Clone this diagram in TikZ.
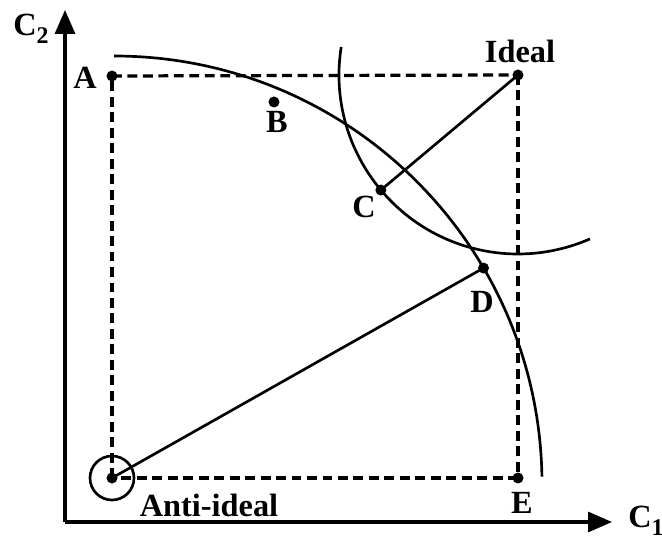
\documentclass[tikz,border=0pt]{standalone}
\usepackage{fontspec}
\setmainfont{Liberation Serif}
\usetikzlibrary{arrows.meta, calc}

\newcommand{\crit}[1]{C\raisebox{-0.5ex}{\fontsize{17}{17}\selectfont #1}}

\tikzset{
    lbl/.style={font=\fontsize{23}{26}\selectfont\bfseries, inner sep=0pt},
    pt/.style={fill=black},
    guide/.style={line width=2.3pt, dash pattern=on 7pt off 4pt},
    curve/.style={line width=1.9pt},
    axis/.style={line width=2.3pt, -{Triangle[length=0.6cm, width=0.5cm]}}
}

\begin{document}
\begin{tikzpicture}[x=0.025cm, y=0.025cm]
    % 1. Khung hình
    \useasboundingbox (0, 0) rectangle (662, 539);

    % 2. Các điểm chính
    \coordinate (O) at (65, 17);
    \coordinate (xend) at (612, 17);
    \coordinate (yend) at (65, 529);
    \coordinate (A) at (112, 463);
    \coordinate (ideal) at (518, 464);
    \coordinate (anti) at (112, 61);
    \coordinate (E) at (518, 61);
    \coordinate (B) at (274, 437);
    \coordinate (bigc) at (114, 55);
    \coordinate (C) at ($(ideal)+(220:179)$);
    \coordinate (D) at ($(bigc)+(30.3:428)$);

    % 3. Trục tọa độ
    \draw[axis] (O) -- (xend);
    \draw[axis] (O) -- (yend);
    \node[lbl] (c1) at (646, 18) {\crit{1}};
    \node[lbl] (c2) at (31, 510) {\crit{2}};

    % 4. Hình chữ nhật nét đứt
    \draw[guide] (A) -- (ideal);
    \draw[guide] (ideal) -- (E);
    \draw[guide] (E) -- (anti);
    \draw[guide] (anti) -- (A);

    % 5. Hai cung tròn
    \draw[curve] ($(bigc)+(90:428)$) arc[start angle=90, end angle=1, radius=428];
    \draw[curve] ($(ideal)+(171:179)$) arc[start angle=171, end angle=293.7, radius=179];

    % 6. Các đoạn thẳng
    \draw[curve] (ideal) -- (C);
    \draw[curve] (anti) -- (D);

    % 7. Các điểm và nhãn
    \foreach \p in {A, ideal, anti, E, B, C, D}
        \fill[pt] (\p) circle (5.5);
    \draw[curve] (anti) circle (22);

    \node[lbl] (lA) at (85, 461) {A};
    \node[lbl] (lideal) at (520, 488) {Ideal};
    \node[lbl] (lB) at (277, 417) {B};
    \node[lbl] (lC) at (364, 332) {C};
    \node[lbl] (lD) at (482, 237) {D};
    \node[lbl] (lanti) at (209, 34) {Anti-ideal};
    \node[lbl] (lE) at (522, 36) {E};
\end{tikzpicture}
\end{document}
